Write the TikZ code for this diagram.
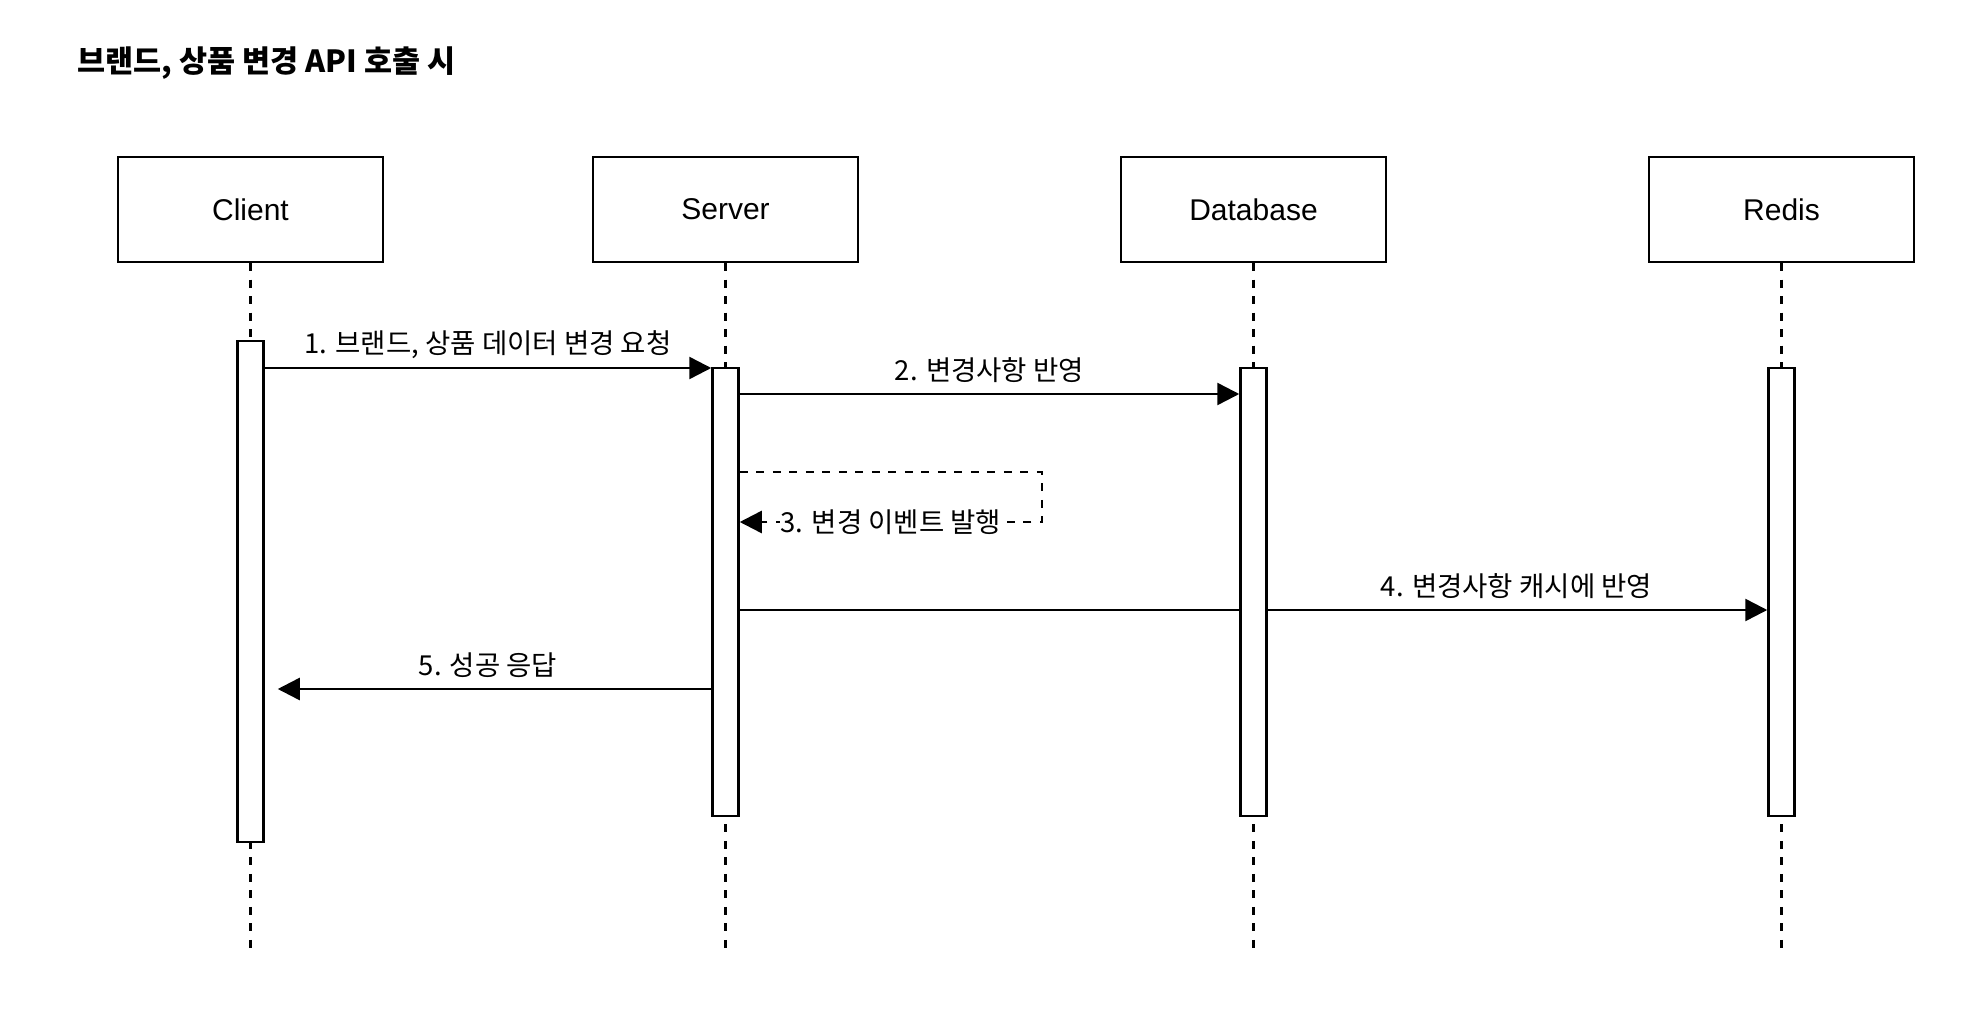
\documentclass[tikz,border=0pt]{standalone}
\usepackage{fontspec}
\setmainfont{Liberation Sans}
\newfontfamily\kr{Noto Sans CJK KR}
\usetikzlibrary{arrows.meta,backgrounds}

\begin{document}
\begin{tikzpicture}[x=1pt,y=-1pt,line width=2.5pt,
    actor/.style={draw,minimum width=265pt,minimum height=105pt,font=\fontsize{30}{36}\selectfont},
    bar/.style={draw,fill=white,minimum width=26pt,inner sep=0pt},
    life/.style={line width=2.5pt,dash pattern=on 8pt off 8.5pt},
    msg/.style={line width=2.5pt,-{Triangle[length=22pt,width=22pt]}},
    lbl/.style={font=\kr\fontsize{27.5}{32}\selectfont,inner sep=1pt}]
          \useasboundingbox (0,0) rectangle (1968,1032);
          \node[anchor=west,font=\kr\bfseries\fontsize{30.5}{36}\selectfont] (title) at (73,63) {브랜드, 상품 변경 API 호출 시};

          \node[actor] (client) at (250.5,209.5) {Client};
          \node[actor] (server) at (725.5,209.5) {Server};
          \node[actor] (db) at (1253.5,209.5) {Database};
          \node[actor] (redis) at (1781.5,209.5) {Redis};

          \node[bar,minimum height=501pt] (cbar) at (250.5,591.5) {};
          \node[bar,minimum height=448pt] (sbar) at (725.5,592) {};
          \node[bar,minimum height=448pt] (dbar) at (1253.5,592) {};
          \node[bar,minimum height=448pt] (rbar) at (1781.5,592) {};

          \coordinate (cend) at (250.5,948);
          \coordinate (send) at (725.5,948);
          \coordinate (dend) at (1253.5,948);
          \coordinate (rend) at (1781.5,948);

          \coordinate (m1) at (0,368);
          \coordinate (m2) at (0,394);
          \coordinate (m3) at (1042,472);
          \coordinate (m3b) at (1042,522);
          \coordinate (m4) at (0,610);
          \coordinate (m5) at (0,689);

          \begin{scope}[on background layer]
            \fill[white] (0,0) rectangle (1968,1032);
            \draw[life] (client) -- (cend);
            \draw[life] (server) -- (send);
            \draw[life] (db) -- (dend);
            \draw[life] (redis) -- (rend);
            \draw[msg] (sbar.east |- m4) to node[lbl,pos=0.756,yshift=23.5pt]{4. 변경사항 캐시에 반영}(rbar.west |- m4);
          \end{scope}

          \draw[msg] (cbar.east |- m1) to node[lbl,yshift=23.5pt]{1. 브랜드, 상품 데이터 변경 요청}(sbar.west |- m1);
          \draw[msg] (sbar.east |- m2) to node[lbl,yshift=23.5pt]{2. 변경사항 반영}(dbar.west |- m2);
          \draw[msg,life] (sbar.east |- m3) -- (m3) -- (m3b) to node[lbl,fill=white]{3. 변경 이벤트 발행}(sbar.east |- m3b);
          \draw[msg,shorten >=13pt] (sbar.west |- m5) to node[lbl,yshift=23.5pt]{5. 성공 응답}(cbar.east |- m5);
        \end{tikzpicture}
\end{document}
